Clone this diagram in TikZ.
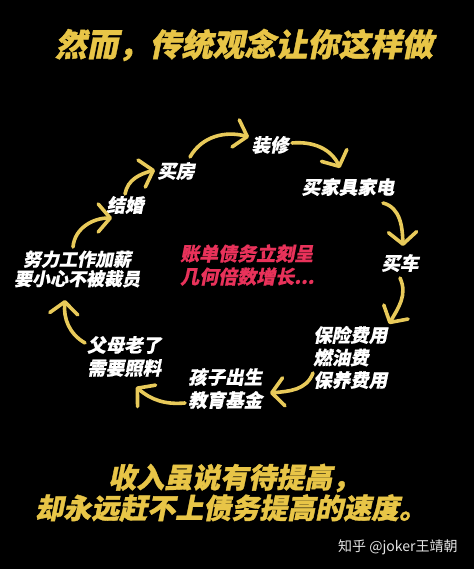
\documentclass[tikz,border=0pt]{standalone}
\usepackage{fontspec}
\usetikzlibrary{arrows.meta}
\newfontfamily\cjk[FakeSlant=0.2,BoldFeatures={FakeBold=0.6}]{Noto Sans CJK SC}
\newfontfamily\cjkh[FakeSlant=0.2,BoldFeatures={FakeBold=1.2}]{Noto Sans CJK SC}
\newfontfamily\cjkr{Noto Sans CJK SC}
\definecolor{ttlyel}{HTML}{E8C547}
\definecolor{arryel}{HTML}{E8CA5A}
\definecolor{redtxt}{HTML}{E8325A}
\definecolor{wmgray}{HTML}{E4E4E4}
\tikzset{
  lbl/.style={text=white, inner sep=0pt, font=\cjk\bfseries\fontsize{18.5}{22.5}\selectfont},
  ttl/.style={text=ttlyel, inner sep=0pt, anchor=west},
  flow/.style={draw=arryel, line width=3.6pt, line cap=round, line join=round,
    -{Straight Barb[length=12pt,width=28pt,round]}},
}
\begin{document}
\begin{tikzpicture}[x=1pt,y=1pt]
\fill[black] (0,0) rectangle (474,569);
\useasboundingbox (0,0) rectangle (474,569);
% titles
\node[ttl, font=\cjkh\bfseries\fontsize{31.5}{31.5}\selectfont] (title) at (55,524) {然而，传统观念让你这样做};
\node[ttl, font=\cjkh\bfseries\fontsize{28}{28}\selectfont] (bot1) at (108,91) {收入虽说有待提高，};
\node[ttl, font=\cjkh\bfseries\fontsize{28}{28}\selectfont] (bot2) at (35,61) {却永远赶不上债务提高的速度。};
\node[text=wmgray, inner sep=0pt, anchor=west, font=\cjkr\fontsize{14}{14}\selectfont] (wm) at (338,22) {知乎 @joker王靖朝};
% labels
\node[lbl] (zhuangxiu) at (270,424) {装修};
\node[lbl] (maifang) at (176,398) {买房};
\node[lbl] (jiehun) at (125,364) {结婚};
\node[lbl] (jiaju) at (348,382) {买家具家电};
\node[lbl] (maiche) at (400,306) {买车};
\node[lbl, align=center, font=\cjk\bfseries\fontsize{18}{19.5}\selectfont] (nuli) at (77,300) {努力工作加薪\\要小心不被裁员};
\node[lbl, anchor=west, align=left, text=redtxt, font=\cjk\bfseries\fontsize{19}{23}\selectfont] (debt) at (180,304) {账单债务立刻呈\\几何倍数增长...};
\node[lbl, anchor=west, align=left] (baoxian) at (313,211.5) {保险费用\\燃油费\\保养费用};
\node[lbl, anchor=west, align=left, font=\cjk\bfseries\fontsize{18.5}{23}\selectfont] (haizi) at (188,180.5) {孩子出生\\教育基金};
\node[lbl, anchor=west, align=left, font=\cjk\bfseries\fontsize{18.5}{23}\selectfont] (fumu) at (87,212.5) {父母老了\\需要照料};
% arrow end points
\coordinate (a1s) at (73,322);  \coordinate (a1e) at (112,351);
\coordinate (a2s) at (125,375); \coordinate (a2e) at (155,399);
\coordinate (a3s) at (190,412); \coordinate (a3e) at (249,432);
\coordinate (a4s) at (292,426); \coordinate (a4e) at (340,401);
\coordinate (a5s) at (383,366); \coordinate (a5e) at (403,323);
\coordinate (a6s) at (400,291); \coordinate (a6e) at (389,245);
\coordinate (a7s) at (313,196); \coordinate (a7e) at (270,176);
\coordinate (a8s) at (185,166); \coordinate (a8e) at (136,182);
\coordinate (a9s) at (85,226);  \coordinate (a9e) at (65,269);
% arrows
\draw[flow] (a1s) to[out=85,in=180] (a1e);
\draw[flow] (a2s) to[out=80,in=195] (a2e);
\draw[flow] (a3s) to[out=60,in=165] (a3e);
\draw[flow] (a4s) to[out=5,in=115] (a4e);
\draw[flow] (a5s) to[out=-15,in=92] (a5e);
\draw[flow] (a6s) to[out=-65,in=60] (a6e);
\draw[flow] (a7s) to[out=-110,in=5] (a7e);
\draw[flow] (a8s) to[out=185,in=-40] (a8e);
\draw[flow] (a9s) to[out=150,in=-95] (a9e);
\end{tikzpicture}
\end{document}
